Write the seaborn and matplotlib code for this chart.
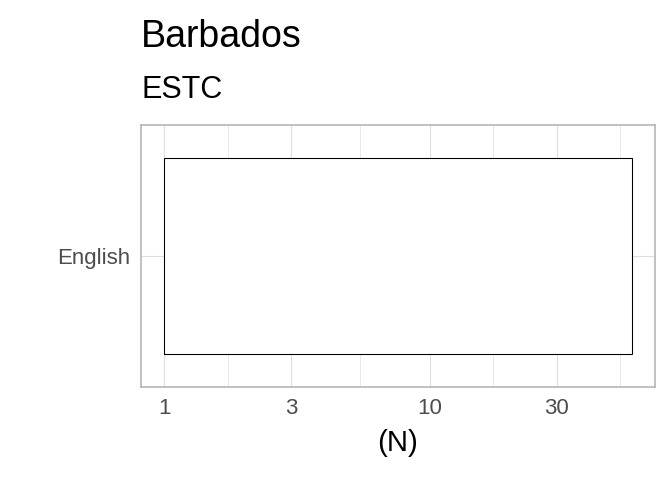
import numpy as np
import pandas as pd
import matplotlib
matplotlib.use("Agg")
import matplotlib.pyplot as plt
from matplotlib import font_manager
from matplotlib.ticker import FixedLocator, FixedFormatter, NullFormatter
import seaborn as sns

# ---- data ----
categories = ["English"]
counts = [57.5]
x_breaks = [1, 3, 10, 30]
x_break_labels = ["1", "3", "10", "30"]
title = "Barbados"
subtitle = "ESTC"
x_label = "(N)"

sns.set_theme(style="white")
names = {f.name for f in font_manager.fontManager.ttflist}
narrow = None
for cand in ["Liberation Sans Narrow", "Arial Narrow", "Nimbus Sans Narrow", "DejaVu Sans Condensed"]:
    if cand in names:
        narrow = cand
        break
if narrow in ("Liberation Sans Narrow", "Arial Narrow", "Nimbus Sans Narrow"):
    fam = narrow
    k = 1.0
else:
    fam = "Liberation Sans"
    k = 0.88  # compromise: regular width font standing in for a narrow one
plt.rcParams["font.family"] = [fam, "DejaVu Sans"]

W, H = 672, 480
fig = plt.figure(figsize=(W / 96, H / 96), dpi=96)
ax = fig.add_axes([141 / W, (H - 387) / H, 514 / W, 262 / H])

df = pd.DataFrame({"lang": categories, "n": counts})
sns.barplot(data=df, x="n", y="lang", orient="h", ax=ax, width=0.9,
            color="white", edgecolor="black", linewidth=0.8, saturation=1)
ax.set_xscale("log")
# bars start at 1 (log origin), as in ggplot
for p, v in zip(ax.patches, counts):
    p.set_x(1)
    p.set_width(v - 1)

lmax = np.log10(max(counts))
ax.set_xlim(10 ** (-0.05 * lmax), 10 ** (1.05 * lmax))
ax.set_ylim(len(categories) - 0.4, -0.6)

lb = np.log10(x_breaks)
step = lb[1] - lb[0]
ext = np.concatenate([lb, [lb[-1] + step]])
minor = 10 ** ((ext[:-1] + ext[1:]) / 2)
ax.xaxis.set_major_locator(FixedLocator(x_breaks))
ax.xaxis.set_major_formatter(FixedFormatter(x_break_labels))
ax.xaxis.set_minor_locator(FixedLocator(minor))
ax.xaxis.set_minor_formatter(NullFormatter())

ax.set_axisbelow(True)
ax.grid(which="major", axis="both", color="#DEDEDE", linewidth=0.8)
ax.grid(which="minor", axis="x", color="#DEDEDE", linewidth=0.5)
for s in ax.spines.values():
    s.set_color("#B3B3B3")
    s.set_linewidth(1.2)
ax.tick_params(axis="both", which="both", length=0, colors="#4D4D4D", labelsize=19 * k)
ax.tick_params(axis="x", pad=8)
ax.tick_params(axis="y", pad=8)
ax.set_ylabel("")
ax.set_xlabel(x_label, fontsize=25 * k, color="black", labelpad=8)

fig.text(141 / W, 1 - 47 / H, title, fontsize=32 * k, color="black", ha="left", va="baseline")
fig.text(141 / W, 1 - 98.5 / H, subtitle, fontsize=26 * k, color="black", ha="left", va="baseline")

fig.savefig("out.png", dpi=96, facecolor="white")
